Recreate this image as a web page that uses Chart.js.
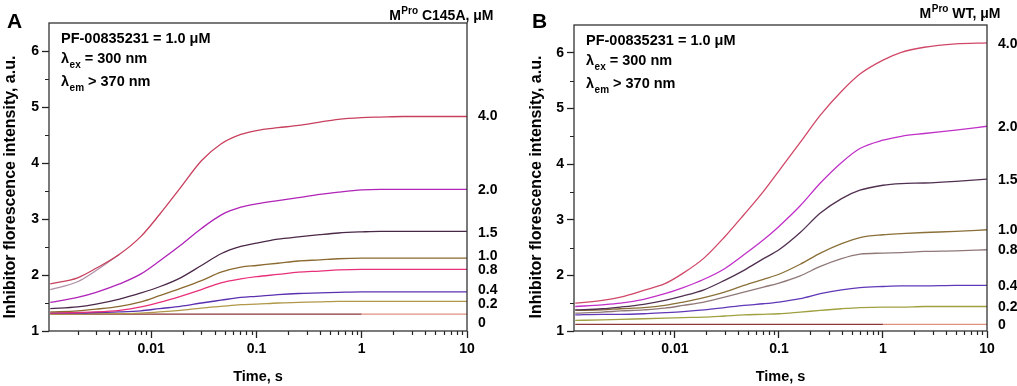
<!DOCTYPE html>
<html>
<head>
<meta charset="utf-8">
<script src="https://cdn.jsdelivr.net/npm/chart.js@4.4.0/dist/chart.umd.min.js"></script>
<style>
html, body { margin: 0; padding: 0; background: #fff; }
#wrap { position: relative; width: 1017px; height: 386px; overflow: hidden; }
#panelA { position: absolute; left: 0; top: 0; }
#panelB { position: absolute; left: 505px; top: 0; }
</style>
</head>
<body>
<div id="wrap">
  <canvas id="panelA" width="505" height="386"></canvas>
  <canvas id="panelB" width="512" height="386"></canvas>
</div>
<script>
// time points, s (log axis)
const timeS = [0.0011, 0.002, 0.003, 0.005, 0.008, 0.012, 0.019, 0.03, 0.046, 0.071,
               0.1, 0.16, 0.25, 0.4, 0.6, 1, 1.5, 2.5, 5, 10];

// Mpro concentrations, uM (right side labels)
const enzymeLabels = ['4.0', '2.0', '1.5', '1.0', '0.8', '0.4', '0.2', '0'];

// panel A - Mpro C145A
const c145a_4_0 = [1.84, 1.95, 2.12, 2.37, 2.69, 3.08, 3.56, 4.04, 4.34, 4.51, 4.58, 4.63, 4.67, 4.73, 4.78, 4.81, 4.82, 4.83, 4.83, 4.83];
const c145a_4_0_rep = [1.74, 1.88, 2.08, 2.37];
const c145a_2_0 = [1.51, 1.60, 1.69, 1.84, 2.02, 2.25, 2.53, 2.83, 3.07, 3.21, 3.27, 3.33, 3.38, 3.44, 3.48, 3.52, 3.53, 3.53, 3.53, 3.53];
const c145a_1_5 = [1.40, 1.43, 1.48, 1.57, 1.68, 1.79, 1.95, 2.17, 2.38, 2.51, 2.57, 2.64, 2.68, 2.72, 2.75, 2.77, 2.78, 2.78, 2.78, 2.78];
const c145a_1_0 = [1.34, 1.36, 1.39, 1.44, 1.52, 1.63, 1.76, 1.90, 2.05, 2.14, 2.17, 2.21, 2.25, 2.27, 2.29, 2.30, 2.30, 2.30, 2.30, 2.30];
const c145a_0_8 = [1.32, 1.33, 1.34, 1.37, 1.43, 1.51, 1.62, 1.74, 1.86, 1.93, 1.97, 2.01, 2.05, 2.07, 2.09, 2.10, 2.10, 2.10, 2.10, 2.10];
const c145a_0_4 = [1.32, 1.32, 1.33, 1.34, 1.36, 1.40, 1.44, 1.50, 1.55, 1.60, 1.62, 1.65, 1.67, 1.68, 1.69, 1.70, 1.70, 1.70, 1.70, 1.70];
const c145a_0_2 = [1.30, 1.30, 1.31, 1.31, 1.32, 1.34, 1.37, 1.41, 1.44, 1.47, 1.48, 1.50, 1.51, 1.52, 1.53, 1.53, 1.53, 1.53, 1.53, 1.53];
const c145a_0 = [1.30, 1.30, 1.30, 1.30, 1.30, 1.30, 1.30, 1.30, 1.30, 1.30, 1.30, 1.30, 1.30, 1.30, 1.30, 1.30, 1.30, 1.30, 1.30, 1.30];
const c145aLabelAt = [4.84, 3.51, 2.75, 2.34, 2.08, 1.73, 1.48, 1.14];

// panel B - Mpro WT
const wt_4_0 = [1.50, 1.55, 1.61, 1.73, 1.85, 2.04, 2.31, 2.69, 3.09, 3.51, 3.88, 4.39, 4.88, 5.31, 5.62, 5.87, 6.01, 6.10, 6.16, 6.18];
const wt_2_0 = [1.44, 1.47, 1.50, 1.57, 1.67, 1.78, 1.93, 2.12, 2.37, 2.64, 2.88, 3.25, 3.66, 4.03, 4.28, 4.43, 4.50, 4.55, 4.61, 4.68];
const wt_1_5 = [1.38, 1.40, 1.43, 1.48, 1.55, 1.63, 1.74, 1.91, 2.09, 2.30, 2.46, 2.77, 3.12, 3.38, 3.53, 3.62, 3.65, 3.66, 3.69, 3.73];
const wt_1_0 = [1.37, 1.38, 1.40, 1.42, 1.46, 1.52, 1.60, 1.70, 1.82, 1.93, 2.02, 2.20, 2.40, 2.57, 2.68, 2.73, 2.75, 2.77, 2.79, 2.82];
const wt_0_8 = [1.32, 1.34, 1.36, 1.38, 1.41, 1.46, 1.52, 1.61, 1.70, 1.79, 1.86, 1.99, 2.16, 2.30, 2.38, 2.40, 2.41, 2.43, 2.44, 2.46];
const wt_0_4 = [1.29, 1.30, 1.30, 1.31, 1.33, 1.35, 1.38, 1.42, 1.46, 1.49, 1.52, 1.58, 1.67, 1.74, 1.78, 1.80, 1.81, 1.81, 1.82, 1.82];
const wt_0_2 = [1.19, 1.20, 1.21, 1.22, 1.23, 1.24, 1.25, 1.27, 1.29, 1.30, 1.31, 1.34, 1.37, 1.40, 1.42, 1.43, 1.43, 1.44, 1.44, 1.44];
const wt_0 = [1.12, 1.12, 1.12, 1.12, 1.12, 1.12, 1.12, 1.12, 1.12, 1.12, 1.12, 1.12, 1.12, 1.12, 1.12, 1.12, 1.12, 1.12, 1.12, 1.12];
const wtLabelAt = [6.15, 4.66, 3.72, 2.81, 2.45, 1.81, 1.43, 1.10];

// axis ticks
const xTickValues = [0.01, 0.1, 1, 10];
const yTickValues = [1, 2, 3, 4, 5, 6];

const FONT = '"Liberation Sans", Arial, Helvetica, sans-serif';
Chart.defaults.font.family = FONT;
Chart.defaults.font.size = 14;
Chart.defaults.font.weight = 'bold';
Chart.defaults.color = '#000';

// frame, minor ticks, y title, panel letter, header and the text in the box
const panelDecor = {
    id: 'panelDecor',
    afterDraw(chart, args, opts) {
        const ctx = chart.ctx;
        const a = chart.chartArea;
        const xs = chart.scales.x, ys = chart.scales.y;
        ctx.save();
        ctx.strokeStyle = '#222';
        ctx.lineWidth = 1.2;
        ctx.beginPath();
        for (let d = -3; d <= 0; d++) {
            for (let m = 2; m <= 9; m++) {
                const v = m * Math.pow(10, d);
                if (v < xs.min || v > xs.max) continue;
                const px = Math.round(xs.getPixelForValue(v)) + 0.5;
                ctx.moveTo(px, a.bottom);
                ctx.lineTo(px, a.bottom + 4);
            }
        }
        for (let v = 1.5; v < ys.max; v += 1) {
            const py = Math.round(ys.getPixelForValue(v)) + 0.5;
            ctx.moveTo(a.left, py);
            ctx.lineTo(a.left - 4, py);
        }
        ctx.stroke();

        ctx.strokeStyle = '#333';
        ctx.lineWidth = 1.3;
        ctx.strokeRect(a.left, a.top, a.right - a.left, a.bottom - a.top);

        ctx.fillStyle = '#000';

        // y axis title
        ctx.save();
        ctx.translate(opts.yTitleX, 187);
        ctx.rotate(-Math.PI / 2);
        ctx.font = 'bold 16px ' + FONT;
        ctx.textAlign = 'center';
        ctx.textBaseline = 'middle';
        ctx.fillText('Inhibitor florescence intensity, a.u.', 0, 0);
        ctx.restore();

        ctx.textAlign = 'left';
        ctx.textBaseline = 'alphabetic';
        ctx.font = 'bold 21px ' + FONT;
        ctx.fillText(opts.letter, opts.letterX, 28);

        // header "M^Pro xxx, uM" right aligned
        const head = 'bold 14px ' + FONT, headSmall = 'bold 10px ' + FONT;
        ctx.font = head;
        const wM = ctx.measureText('M').width;
        const wRest = ctx.measureText(opts.header).width;
        ctx.font = headSmall;
        const wSup = ctx.measureText('Pro').width;
        const hx = opts.headerRight - (wM + wSup + wRest);
        ctx.font = head;
        ctx.fillText('M', hx, opts.headerBase);
        ctx.font = headSmall;
        ctx.fillText('Pro', hx + wM + 0.5, opts.headerBase - 6);
        ctx.font = head;
        ctx.fillText(opts.header, hx + wM + wSup + 0.5, opts.headerBase);

        // conditions text
        const big = 'bold 14.5px ' + FONT, small = 'bold 10px ' + FONT;
        const tx = a.left + 12;
        ctx.font = big;
        ctx.fillText('PF-00835231 = 1.0 \u03bcM', tx, a.top + 19.5);
        const sub = (main, s, rest, y) => {
            ctx.font = big;
            ctx.fillText(main, tx, y);
            let w = ctx.measureText(main).width;
            ctx.font = small;
            ctx.fillText(s, tx + w + 0.5, y + 5);
            w += ctx.measureText(s).width + 0.5;
            ctx.font = big;
            ctx.fillText(rest, tx + w, y);
        };
        sub('\u03bb', 'ex', ' = 300 nm', a.top + 39.5);
        sub('\u03bb', 'em', ' > 370 nm', a.top + 62.5);
        ctx.restore();
    }
};

function makeDataset(values, color, lateColor) {
    const ds = {
        data: values.map((v, i) => ({ x: timeS[i], y: v })),
        borderColor: color,
        borderWidth: 1.3,
        pointRadius: 0,
        fill: false,
        cubicInterpolationMode: 'monotone'
    };
    if (lateColor) {
        ds.segment = { borderColor: c => (c.p0.parsed.x >= 1 ? lateColor : color) };
    }
    return ds;
}

function makeChart(canvasId, datasets, labelAt, deco, padLeft, rightWidth, topPad) {
    const ctx = document.getElementById(canvasId).getContext('2d');
    return new Chart(ctx, {
        type: 'line',
        data: { datasets: datasets },
        plugins: [panelDecor],
        options: {
            responsive: false,
            animation: false,
            events: [],
            layout: { padding: { left: padLeft, top: topPad, right: 0, bottom: 0 } },
            scales: {
                x: {
                    type: 'logarithmic',
                    min: 0.00107,
                    max: 10,
                    afterBuildTicks: s => { s.ticks = xTickValues.map(v => ({ value: v })); },
                    afterFit: s => { s.height = 55; },
                    ticks: { autoSkip: false, maxRotation: 0, padding: 3, callback: v => String(v) },
                    grid: { drawOnChartArea: false, tickLength: 7, tickColor: '#222', tickWidth: 1.3 },
                    border: { display: false },
                    title: { display: true, text: 'Time, s', font: { size: 14.5 }, padding: { top: 0, bottom: 0 } }
                },
                y: {
                    type: 'linear',
                    position: 'left',
                    min: 1,
                    max: 6.5,
                    afterBuildTicks: s => { s.ticks = yTickValues.map(v => ({ value: v })); },
                    afterFit: s => { s.width = 49; },
                    ticks: { padding: 3 },
                    grid: { drawOnChartArea: false, tickLength: 7, tickColor: '#222', tickWidth: 1.3 },
                    border: { display: false }
                },
                y2: {
                    type: 'linear',
                    position: 'right',
                    min: 1,
                    max: 6.5,
                    afterBuildTicks: s => { s.ticks = labelAt.map(v => ({ value: v })); },
                    afterFit: s => { s.width = rightWidth; },
                    ticks: { autoSkip: false, padding: 3, callback: (v, i) => enzymeLabels[i] },
                    grid: { display: false },
                    border: { display: false }
                }
            },
            plugins: {
                legend: { display: false },
                tooltip: { enabled: false },
                panelDecor: deco
            }
        }
    });
}

const colorsA = ['#c8405e', '#b024b8', '#4a2848', '#8a6a30', '#e8307a', '#5a30b0', '#b09848', '#8a3434'];
const colorsB = ['#d04868', '#c030c8', '#503050', '#8a7038', '#907878', '#6038b8', '#a0a040', '#903838'];

const seriesA = [c145a_4_0, c145a_2_0, c145a_1_5, c145a_1_0, c145a_0_8, c145a_0_4, c145a_0_2, c145a_0];
const seriesB = [wt_4_0, wt_2_0, wt_1_5, wt_1_0, wt_0_8, wt_0_4, wt_0_2, wt_0];

const dsA = seriesA.map((s, i) => makeDataset(s, colorsA[i], i === 7 ? '#e09080' : null));
dsA.push(makeDataset(c145a_4_0_rep, '#b090a8'));
const dsB = seriesB.map((s, i) => makeDataset(s, colorsB[i], i === 7 ? '#e09080' : null));

makeChart('panelA', dsA, c145aLabelAt,
    { letter: 'A', letterX: 7, yTitleX: 11, header: ' C145A, \u03bcM', headerRight: 493, headerBase: 19.5 }, 0, 38, 23);
makeChart('panelB', dsB, wtLabelAt,
    { letter: 'B', letterX: 27, yTitleX: 32, header: ' WT, \u03bcM', headerRight: 495, headerBase: 17.5 }, 20, 30, 25);
</script>
</body>
</html>
